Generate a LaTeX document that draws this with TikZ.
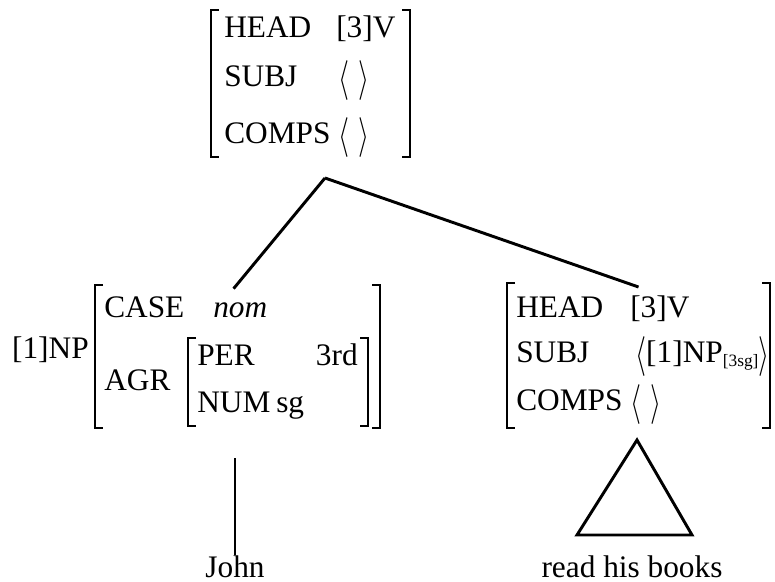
\documentclass[tikz,border=0pt]{standalone}
\usepackage{fontspec}
\setmainfont{Liberation Serif}
\usepackage{amsmath}
\usepackage{tikz}

\newcommand{\lang}{\raisebox{-3pt}{\scalebox{0.85}[1.2]{$\langle$}}}
\newcommand{\rang}{\raisebox{-3pt}{\scalebox{0.85}[1.2]{$\rangle$}}}
\newcommand{\emptylist}{\lang\hspace{7pt}\rang}

\begin{document}
\begin{tikzpicture}[x=0.75pt,y=-0.75pt,
    every node/.style={font=\fontsize{23.5}{28}\selectfont, inner sep=0pt},
    feat/.style={anchor=base west},
    brack/.style={line width=1.2pt},
    branch/.style={line width=2.2pt}]
    \useasboundingbox (0,0) rectangle (775,582);
                % mother
                \draw[brack] (219,10) -| (211,157) -- (219,157);
                \draw[brack] (402,10) -| (410,157) -- (402,157);
                \node[feat] (mhead) at (224,37) {HEAD};
                \node[feat] (msubj) at (224,86) {SUBJ};
                \node[feat] (mcomps) at (224,143) {COMPS};
                \node[feat] (mheadv) at (336,37) {[3]V};
                \node[feat] (msubjv) at (338,86) {\emptylist};
                \node[feat] (mcompsv) at (338,143) {\emptylist};
                \coordinate (mother) at (325,178);
                % subject daughter
                \node[anchor=base east] (np) at (89,358) {[1]NP};
                \draw[brack] (103,285) -| (95,428) -- (103,428);
                \draw[brack] (372,285) -| (380,428) -- (372,428);
                \node[feat] (case) at (104,317) {CASE};
                \node[feat] (nom) at (213,317) {\textit{nom}};
                \node[feat] (agr) at (104,390) {AGR};
                \draw[brack] (196,338) -| (188,426) -- (196,426);
                \draw[brack] (360,338) -| (368,426) -- (360,426);
                \node[feat] (per) at (197,365) {PER};
                \node[feat, anchor=base east] (third) at (358,365) {3rd};
                \node[feat] (num) at (197,412) {NUM};
                \node[feat] (sg) at (276,412) {sg};
                \coordinate (subjtop) at ([xshift=-5pt,yshift=10pt]nom.north);
                % head daughter
                \draw[brack] (515,283) -| (507,428) -- (515,428);
                \draw[brack] (762,283) -| (770,428) -- (762,428);
                \node[feat] (dhead) at (516,317) {HEAD};
                \node[feat] (dsubj) at (516,362) {SUBJ};
                \node[feat] (dcomps) at (516,410) {COMPS};
                \node[feat] (dheadv) at (630,317) {[3]V};
                \node[feat] (dsubjv) at (635,362) {\lang[1]NP\raisebox{-3pt}{\fontsize{13}{13}\selectfont[3sg]}\rang};
                \node[feat] (dcompsv) at (630,410) {\emptylist};
                \coordinate (headtop) at ([xshift=-16pt,yshift=6pt]dheadv.north);
                % leaves
                \coordinate (johntop) at (235,458);
                \node[anchor=base] (john) at (235,577) {John};
                \coordinate (tri) at (637,440);
                \coordinate (tril) at (577,535);
                \coordinate (trir) at (692,535);
                \node[anchor=base] (vp) at (632,577) {read his books};
                \draw[branch] (mother) -- (subjtop);
                \draw[branch] (mother) -- (headtop);
                \draw[branch] (johntop) -- (john.north);
                \draw[branch] (tri) -- (tril) -- (trir) -- cycle;
            \end{tikzpicture}
\end{document}
